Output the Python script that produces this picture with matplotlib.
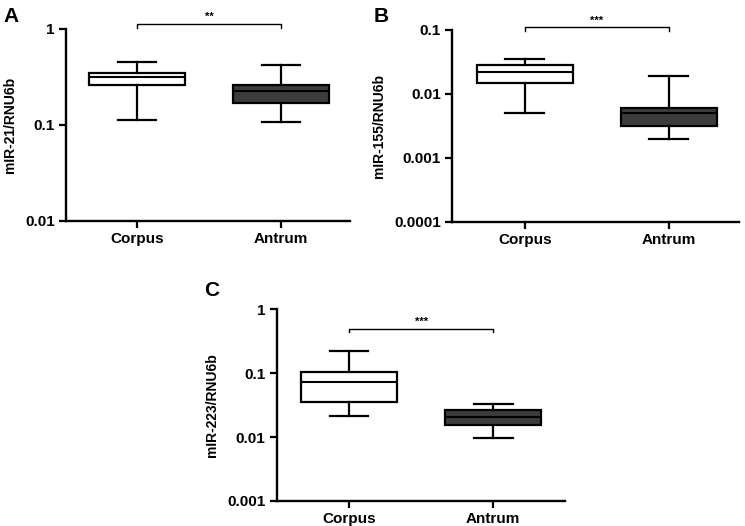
import matplotlib.pyplot as plt

plt.rcParams['font.family'] = ['Liberation Sans', 'DejaVu Sans']
plt.rcParams['font.weight'] = 'bold'

W, H = 745, 526

groups = ['Corpus', 'Antrum']

# box stats per panel: (whislo, q1, med, q3, whishi)
mir21_corpus = [0.113, 0.263, 0.314, 0.35, 0.457]
mir21_antrum = [0.108, 0.169, 0.228, 0.259, 0.425]
mir155_corpus = [0.005, 0.0147, 0.0223, 0.028, 0.0352]
mir155_antrum = [0.002, 0.0031, 0.005, 0.0061, 0.019]
mir223_corpus = [0.0216, 0.0358, 0.0728, 0.103, 0.223]
mir223_antrum = [0.0098, 0.0153, 0.0207, 0.0265, 0.033]

fill_colors = ['white', '#3c3c3c']


def px_axes(fig, left, right, top, bottom):
    return fig.add_axes([left / W, 1 - bottom / H, (right - left) / W, (bottom - top) / H])


def panel(ax, corpus, antrum, ylim, yticks, yticklabels, ylabel, xlim, stars, bracket_y, bracket_drop):
    stats = []
    for g, v in zip(groups, [corpus, antrum]):
        stats.append(dict(label=g, whislo=v[0], q1=v[1], med=v[2], q3=v[3], whishi=v[4], fliers=[]))
    bp = ax.bxp(stats, positions=[1, 2], widths=0.667, capwidths=0.27, patch_artist=True,
                showfliers=False,
                boxprops=dict(linewidth=1.6, edgecolor='black'),
                medianprops=dict(color='black', linewidth=1.5),
                whiskerprops=dict(color='black', linewidth=1.6),
                capprops=dict(color='black', linewidth=1.6))
    for patch, c in zip(bp['boxes'], fill_colors):
        patch.set_facecolor(c)
    ax.set_yscale('log')
    ax.set_ylim(*ylim)
    ax.set_xlim(*xlim)
    ax.set_yticks(yticks)
    ax.set_yticklabels(yticklabels)
    ax.minorticks_off()
    ax.set_xticks([1, 2])
    ax.set_xticklabels(groups)
    for s in ['top', 'right']:
        ax.spines[s].set_visible(False)
    for s in ['left', 'bottom']:
        ax.spines[s].set_linewidth(1.7)
    ax.tick_params(axis='both', width=1.6, length=5, labelsize=11, pad=3)
    ax.set_ylabel(ylabel, fontsize=10, fontweight='bold', labelpad=6)
    # significance bracket
    top = bracket_y
    ax.plot([1, 1, 2, 2], [top / bracket_drop, top, top, top / bracket_drop],
            color='black', linewidth=1, clip_on=False)
    ax.text(1.5, top * 1.05, stars, ha='center', va='bottom', fontsize=8, fontweight='bold')


fig = plt.figure(figsize=(W / 100, H / 100), dpi=100)

axA = px_axes(fig, 66, 350, 29, 221)
panel(axA, mir21_corpus, mir21_antrum, (0.01, 1), [0.01, 0.1, 1], ['0.01', '0.1', '1'],
      'mIR-21/RNU6b', (0.507, 2.479), '**', 1.13, 1.11)

axB = px_axes(fig, 452, 739, 30, 221.7)
panel(axB, mir155_corpus, mir155_antrum, (0.0001, 0.1), [0.0001, 0.001, 0.01, 0.1],
      ['0.0001', '0.001', '0.01', '0.1'], 'mIR-155/RNU6b', (0.495, 2.488), '***', 0.111, 1.16)

axC = px_axes(fig, 276.7, 565, 309.3, 501)
panel(axC, mir223_corpus, mir223_antrum, (0.001, 1), [0.001, 0.01, 0.1, 1],
      ['0.001', '0.01', '0.1', '1'], 'mIR-223/RNU6b', (0.499, 2.497), '***', 0.5, 1.14)

fig.text(3 / W, 1 - 17 / H, 'A', fontsize=15, fontweight='bold', va='center')
fig.text(374 / W, 1 - 17 / H, 'B', fontsize=15, fontweight='bold', va='center')
fig.text(204 / W, 1 - 291 / H, 'C', fontsize=15, fontweight='bold', va='center')

fig.savefig('out.png', dpi=100)
